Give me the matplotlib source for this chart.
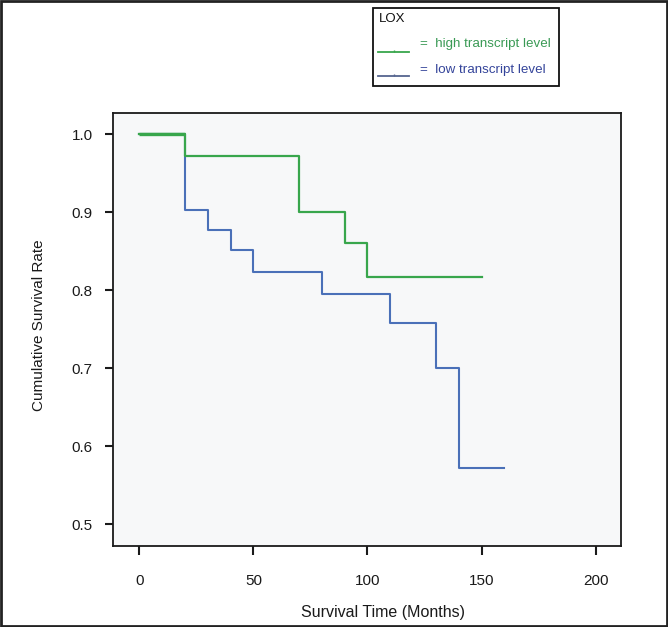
import matplotlib
matplotlib.use('Agg')
import matplotlib.pyplot as plt
from matplotlib.patches import Rectangle
from matplotlib.lines import Line2D

plt.rcParams['font.family'] = ['Liberation Sans', 'DejaVu Sans']

# Kaplan-Meier steps
months_high = [0, 20, 70, 90, 100, 150]
surv_high = [1.0, 0.972, 0.900, 0.861, 0.817, 0.817]
months_low = [0, 20, 30, 40, 50, 80, 110, 130, 140, 160]
surv_low = [1.0, 0.903, 0.877, 0.851, 0.823, 0.795, 0.758, 0.700, 0.572, 0.572]

x_ticks = [0, 50, 100, 150, 200]
y_ticks = [0.5, 0.6, 0.7, 0.8, 0.9, 1.0]

green = '#38a64c'
blue = '#4a70b8'

W, H = 668, 627
fig = plt.figure(figsize=(W / 100, H / 100), dpi=100)
ax = fig.add_axes([113 / W, 1 - 546 / H, 508 / W, 433 / H])
ax.set_facecolor('#f7f8f9')

ax.step(months_low, surv_low, where='post', color=blue, lw=1.5)
ax.step(months_high, surv_high, where='post', color=green, lw=1.6)
# the shared first step looks heavier in the original
ax.plot(months_high[:2], surv_high[:1] * 2, color=green, lw=2.4, solid_capstyle='butt')

ax.set_xlim(-11.5, 211.1)
ax.set_ylim(0.4722, 1.027)
ax.set_xticks(x_ticks)
ax.set_yticks(y_ticks)
ax.set_yticklabels(['%.1f' % v for v in y_ticks])
for s in ax.spines.values():
    s.set_linewidth(1.3)
    s.set_color('#1a1a1a')
ax.tick_params(axis='x', direction='out', length=6.5, width=1.5, pad=13.5,
               labelsize=11, colors='#1a1a1a')
ax.tick_params(axis='y', direction='out', length=5.5, width=1.5, pad=9,
               labelsize=11, colors='#1a1a1a')

fig.text(383 / W, 1 - 613 / H, 'Survival Time (Months)', ha='center', va='center',
         fontsize=11.5, color='#1a1a1a')
fig.text(39 / W, 1 - 325 / H, 'Cumulative Survival Rate', ha='center', va='center',
         rotation=90, fontsize=11, color='#1a1a1a')

# legend box above the axes
fig.patches.append(Rectangle((373 / W, 1 - 86 / H), 186 / W, 78 / H,
                             transform=fig.transFigure, fill=False,
                             lw=1.3, ec='#111111'))
fig.text(379 / W, 1 - 19.5 / H, 'LOX', ha='left', va='center', fontsize=9.5,
         color='#111111')
for y_line, y_txt, col, tcol, lab in [(51.5, 44.5, green, '#3a9a55', 'high transcript level'),
                                       (76, 70, '#55648f', '#34449a', 'low transcript level')]:
    fig.add_artist(Line2D([378 / W, 409 / W], [1 - y_line / H] * 2,
                          transform=fig.transFigure, color=col, lw=1.3))
    fig.add_artist(Line2D([394 / W], [1 - (y_line - 1) / H], transform=fig.transFigure,
                          color=col, marker='|', ms=2, lw=0))
    fig.text(420 / W, 1 - y_txt / H, '=  ' + lab, ha='left', va='center',
             fontsize=9.6, color=tcol)

# outer frame
fig.patches.append(Rectangle((0.0015, 0.0015), 0.997, 0.997, transform=fig.transFigure,
                             fill=False, lw=2, ec='#222222'))

fig.savefig('out.png', dpi=100)
